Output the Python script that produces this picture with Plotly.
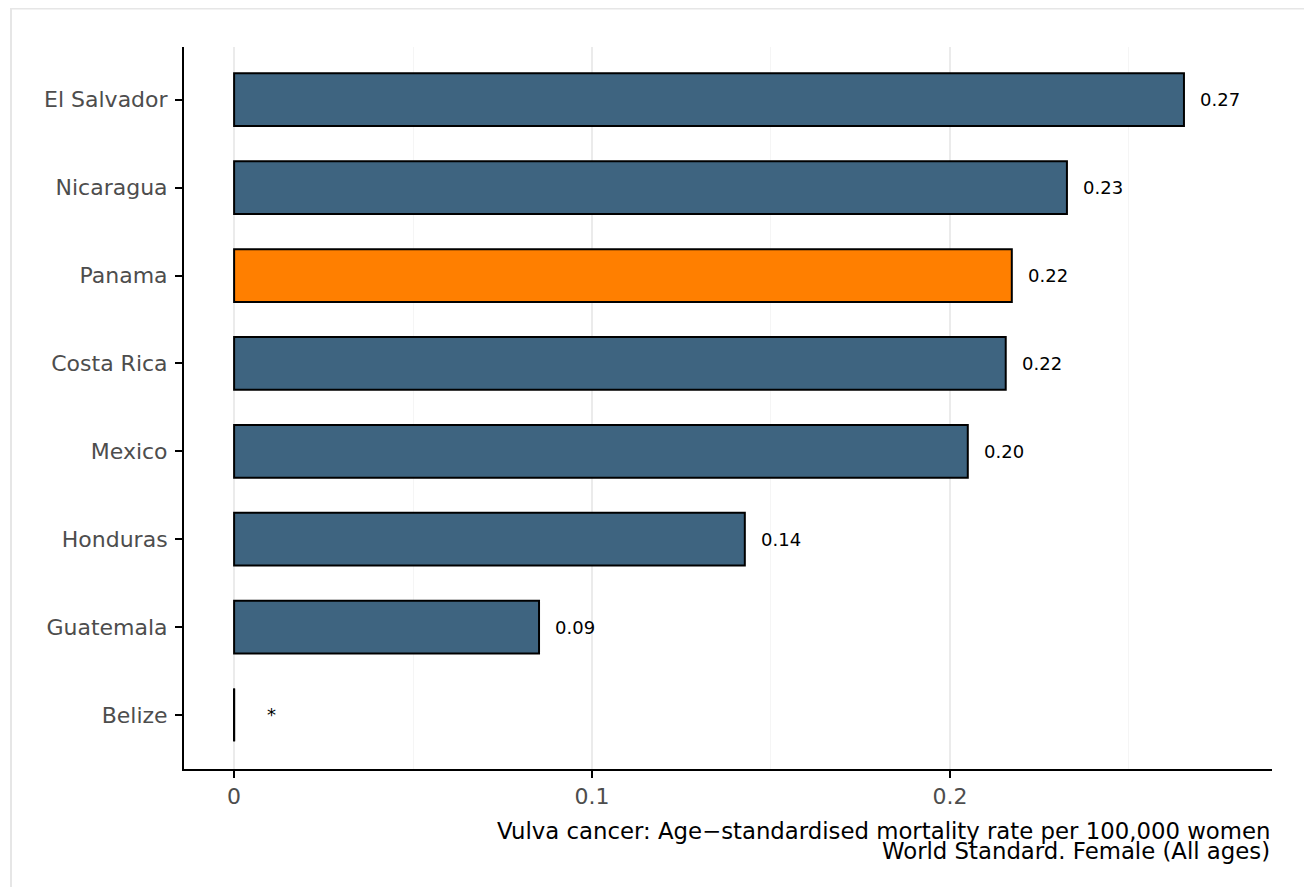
import plotly.graph_objects as go

countries = ["Belize", "Guatemala", "Honduras", "Mexico", "Costa Rica", "Panama", "Nicaragua", "El Salvador"]
values = [0.0, 0.0852, 0.1427, 0.2050, 0.2156, 0.2173, 0.2327, 0.2654]
labels = ["*", "0.09", "0.14", "0.20", "0.22", "0.22", "0.23", "0.27"]
highlight = "Panama"

x_tickvals = [0, 0.1, 0.2]
x_ticktext = ["0", "0.1", "0.2"]
title_lines = ["Vulva cancer: Age\u2212standardised mortality rate per 100,000 women",
               "World Standard. Female (All ages)"]

FONT = "DejaVu Sans, Verdana, sans-serif"
pos = list(range(len(countries)))
colors = ["#ff7f00" if c == highlight else "#3e6480" for c in countries]

fig = go.Figure()
fig.add_trace(go.Bar(
    x=values, y=pos, orientation="h", width=0.6,
    marker=dict(color=colors, line=dict(color="black", width=2)),
    hoverinfo="skip", showlegend=False,
))
# zero-length bars (no data) drawn as outline segment
for p, v in zip(pos, values):
    if v == 0:
        fig.add_trace(go.Scatter(x=[v, v], y=[p - 0.3, p + 0.3], mode="lines",
                                 line=dict(color="black", width=2),
                                 hoverinfo="skip", showlegend=False))

for p, v, t in zip(pos, values, labels):
    fig.add_annotation(x=v, y=p, text=t, showarrow=False, xanchor="left",
                       xshift=31 if v == 0 else 14,
                       font=dict(family=FONT, size=18, color="black"))

# axis title, two lines with tight (0.9) line height
for i, line in enumerate(title_lines):
    fig.add_annotation(xref="paper", yref="paper", x=1.0, y=0, xanchor="right", yanchor="top",
                       yshift=-47 - 20 * i, xshift=0,
                       text=line, showarrow=False, align="right",
                       font=dict(family=FONT, size=22.8, color="black"))

# outer panel border
fig.add_shape(type="rect", xref="paper", yref="paper", x0=-0.1590, x1=1.0358, y0=-0.3, y1=1.0533,
              line=dict(color="#e6e6e6", width=2), layer="below")

fig.update_layout(
    width=1312, height=887,
    margin=dict(l=176, r=48, t=39, b=126),
    plot_bgcolor="white", paper_bgcolor="white",
    font=dict(family=FONT),
)
fig.update_xaxes(
    range=[-0.014, 0.29], tickvals=x_tickvals, ticktext=x_ticktext,
    showgrid=True, gridcolor="#ebebeb", gridwidth=1.5, zeroline=False,
    minor=dict(dtick=0.05, tick0=0, showgrid=True, gridcolor="#f5f5f5", gridwidth=1, ticks=""),
    showline=True, linecolor="black", linewidth=2,
    ticks="outside", ticklen=7, tickwidth=2, tickcolor="black",
    tickfont=dict(family=FONT, size=22, color="#4d4d4d"),
)
fig.update_yaxes(
    range=[-0.615, 7.6], tickvals=pos, ticktext=countries,
    showgrid=False, zeroline=False,
    showline=True, linecolor="black", linewidth=2,
    ticks="outside", ticklen=7, tickwidth=2, tickcolor="black", ticklabelstandoff=3,
    tickfont=dict(family=FONT, size=22, color="#4d4d4d"),
)

fig.write_html("out.html")
